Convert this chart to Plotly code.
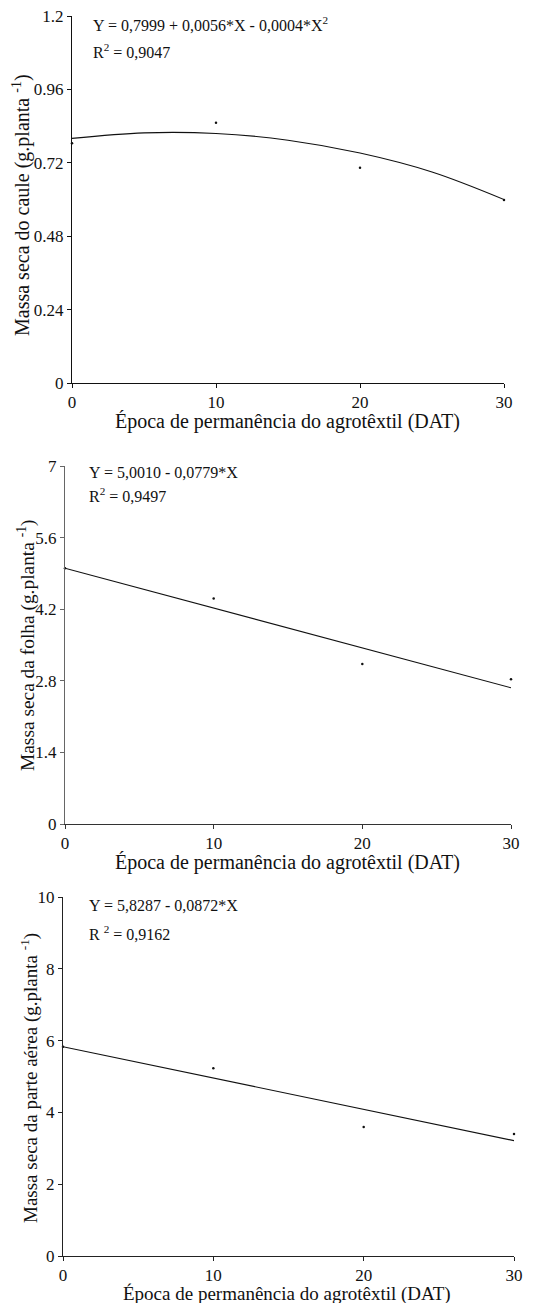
import plotly.graph_objects as go

W, H = 536, 1303

# ---------------- data ----------------
dat = [0, 10, 20, 30]

# Panel 1: Massa seca do caule
caule_obs = [0.784, 0.851, 0.704, 0.598]
caule_fit_x = [0, 5, 10, 15, 20, 25, 30]
caule_fit_y = [0.800, 0.818, 0.816, 0.794, 0.752, 0.690, 0.600]
caule_ticks = [0, 0.24, 0.48, 0.72, 0.96, 1.2]
caule_ticktext = ["0", "0.24", "0.48", "0.72", "0.96", "1.2"]

# Panel 2: Massa seca da folha
folha_obs = [5.00, 4.41, 3.13, 2.83]
folha_fit_x = [0, 30]
folha_fit_y = [5.001, 2.664]
folha_ticks = [0, 1.4, 2.8, 4.2, 5.6, 7]
folha_ticktext = ["0", "1.4", "2.8", "4.2", "5.6", "7"]

# Panel 3: Massa seca da parte aérea
aerea_obs = [5.83, 5.23, 3.59, 3.40]
aerea_fit_x = [0, 30]
aerea_fit_y = [5.829, 3.213]
aerea_ticks = [0, 2, 4, 6, 8, 10]
aerea_ticktext = ["0", "2", "4", "6", "8", "10"]

x_ticks = [0, 10, 20, 30]

FONT = "Liberation Serif, Times New Roman, serif"
INK = "#111111"

def px_x(p):
    return p / W

def px_y(p):
    return 1 - p / H

# panel geometry (pixels): left, right, top, bottom, axis colours
panels = [
    dict(l=72, r=504, t=16, b=383, xc="#111111", yc="#111111"),
    dict(l=65, r=511, t=466, b=824, xc="#333333", yc="#666666"),
    dict(l=63, r=514, t=897, b=1256, xc="#222222", yc="#222222"),
]

fig = go.Figure()

series = [
    (caule_obs, caule_fit_x, caule_fit_y),
    (folha_obs, folha_fit_x, folha_fit_y),
    (aerea_obs, aerea_fit_x, aerea_fit_y),
]
for i, (obs, fx, fy) in enumerate(series):
    xa = "x" if i == 0 else f"x{i+1}"
    ya = "y" if i == 0 else f"y{i+1}"
    fig.add_trace(go.Scatter(x=fx, y=fy, mode="lines", xaxis=xa, yaxis=ya,
                             line=dict(color=INK, width=1.1, shape="spline"),
                             showlegend=False, hoverinfo="skip"))
    fig.add_trace(go.Scatter(x=dat, y=obs, mode="markers", xaxis=xa, yaxis=ya,
                             marker=dict(color=INK, size=2.5),
                             showlegend=False, cliponaxis=False))

yranges = [[0, 1.2], [0, 7], [0, 10]]
yticks = [(caule_ticks, caule_ticktext), (folha_ticks, folha_ticktext),
          (aerea_ticks, aerea_ticktext)]

layout = dict(
    width=W, height=H, autosize=False,
    margin=dict(l=0, r=0, t=0, b=0, pad=0),
    paper_bgcolor="white", plot_bgcolor="white",
    font=dict(family=FONT, color=INK, size=17),
    showlegend=False,
)
for i, p in enumerate(panels):
    xk = "xaxis" if i == 0 else f"xaxis{i+1}"
    yk = "yaxis" if i == 0 else f"yaxis{i+1}"
    xname = "x" if i == 0 else f"x{i+1}"
    yname = "y" if i == 0 else f"y{i+1}"
    layout[xk] = dict(
        domain=[px_x(p["l"]), px_x(p["r"])], anchor=yname, automargin=False,
        range=[0, 30], tickvals=x_ticks, ticktext=[str(v) for v in x_ticks],
        showgrid=False, zeroline=False, showline=True, linecolor=p["xc"], linewidth=1,
        ticks="outside", ticklen=4, tickcolor=p["xc"], tickwidth=1,
        tickfont=dict(family=FONT, size=17, color=INK), fixedrange=True,
    )
    layout[yk] = dict(
        domain=[px_y(p["b"]), px_y(p["t"])], anchor=xname, automargin=False,
        range=yranges[i], tickvals=yticks[i][0], ticktext=yticks[i][1],
        showgrid=False, zeroline=False, showline=True, linecolor=p["yc"], linewidth=1,
        ticks="outside", ticklen=4, tickcolor=p["yc"], tickwidth=1,
        tickfont=dict(family=FONT, size=17, color=INK), fixedrange=True,
    )
fig.update_layout(**layout)

ann = []
def add_text(text, x, y, size, xanchor="left", angle=0):
    ann.append(dict(text=text, x=px_x(x), y=px_y(y), xref="paper", yref="paper",
                    xanchor=xanchor, yanchor="middle", showarrow=False,
                    borderpad=0, textangle=angle,
                    font=dict(family=FONT, size=size, color=INK)))

xtitle = "Época de permanência do agrotêxtil (DAT)"
# Panel 1
add_text("Y = 0,7999 + 0,0056*X - 0,0004*X<sup>2</sup>", 92, 24, 16)
add_text("R<sup>2</sup> = 0,9047", 92, 51, 16)
add_text("Massa seca do caule (g.planta <sup>-1</sup>)", 22, 205, 20, "center", -90)
add_text(xtitle, 287, 421, 20, "center")
# Panel 2
add_text("Y = 5,0010 - 0,0779*X", 88, 472, 16)
add_text("R<sup>2</sup> = 0,9497", 88, 495, 16)
add_text("Massa seca da folha (g.planta <sup>-1</sup>)", 26, 646, 19.4, "center", -90)
add_text(xtitle, 287, 862, 20, "center")
# Panel 3
add_text("Y = 5,8287 - 0,0872*X", 88, 905, 16)
add_text("R <sup>2</sup> = 0,9162", 88, 933, 16)
add_text("Massa seca da parte aérea (g.planta <sup>-1</sup>)", 29, 1078, 19, "center", -90)
add_text(xtitle, 287, 1294, 19, "center")

fig.update_layout(annotations=ann)
fig.write_html(
    "out.html",
    config={"responsive": False, "displayModeBar": False},
    post_script="document.body.style.margin='0';document.body.style.padding='0';",
)
